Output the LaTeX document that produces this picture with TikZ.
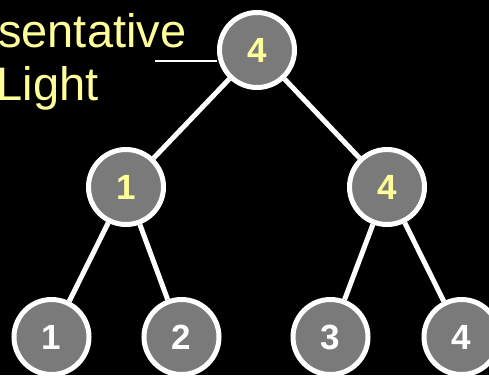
\documentclass[tikz,border=0pt]{standalone}
\usepackage{fontspec}
\setmainfont{Liberation Sans}
\definecolor{nodegray}{HTML}{7A7A7A}
\definecolor{txtyellow}{HTML}{FFFF99}
\begin{document}
\begin{tikzpicture}[x=1pt,y=-1pt,
  treenode/.style={circle,draw=white,line width=5pt,fill=nodegray,minimum size=75pt,inner sep=0pt,font=\bfseries\fontsize{35}{35}\selectfont},
  inner/.style={treenode,text=txtyellow},
  leaf/.style={treenode,text=white},
  edge/.style={draw=white,line width=5pt},
  pointer/.style={draw=white,line width=2pt},
  label/.style={text=txtyellow,font=\fontsize{47}{53}\selectfont,inner sep=0pt,anchor=base west}]
\fill[black] (0,0) rectangle (489,375);
\useasboundingbox (0,0) rectangle (489,375);
\clip (0,0) rectangle (489,375);
\node[inner] (r) at (257,50) {4};
\node[inner] (ml) at (126,187) {1};
\node[inner] (mr) at (387,187) {4};
\node[leaf] (l1) at (51.5,337) {1};
\node[leaf] (l2) at (181.5,337) {2};
\node[leaf] (l3) at (330.5,337) {3};
\node[leaf] (l4) at (461.5,337) {4};
\node[label] (t1) at (-2,47) {sentative};
\node[label] (t2) at (-3.5,100) {Light};
\coordinate (pt) at (155,61);
\path[edge] (r) -- (ml);
\path[edge] (r) -- (mr);
\path[edge] (ml) -- (l1);
\path[edge] (ml) -- (l2);
\path[edge] (mr) -- (l3);
\path[edge] (mr) -- (l4);
\path[pointer] (pt) -- (pt -| r.west);
\end{tikzpicture}
\end{document}
